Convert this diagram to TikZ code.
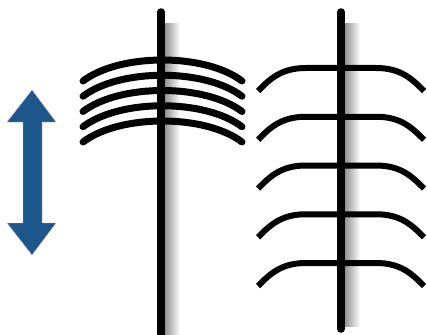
\documentclass[tikz,border=0pt]{standalone}
\usetikzlibrary{shadings}
\definecolor{arrowblue}{RGB}{29,86,138}

\begin{document}
\begin{tikzpicture}[
        x=1pt, y=-1pt,
        stem/.style={
            line width=7.5pt,
            line cap=round
        },
        tight arc/.style={
            line width=7pt,
            line cap=round
        },
        wide arc/.style={
            line width=6pt,
            line cap=butt
        },
        stem shadow/.style={
            left color=black!45,
            right color=white,
            draw=none
        }
    ]
    \useasboundingbox (0,0) rectangle (427,334);

    % Double arrow
    \fill[arrowblue, draw=black!25, line width=0.4pt]
        (32,90) -- (56,122) -- (42,122) -- (42,223) -- (56,223) -- (32,255)
        -- (7,223) -- (23,223) -- (23,122) -- (7,122) -- cycle;

    % Shadows behind the stems
    \shade[stem shadow] (164,24) rectangle (180,334);
    \shade[stem shadow] (344,24) rectangle (360,326);

    % Closely packed arcs
    \foreach \i in {0,...,4} {
        \draw[tight arc, yshift=-15.25*\i]
            (83,81) .. controls (120,53) and (205,53) .. (242,81);
    }

    % Widely spaced arcs
    \foreach \i in {0,...,4} {
        \draw[wide arc, yshift=-48.75*\i]
            (258,91) .. controls (270,79) and (281,68) .. (306,68)
            -- (376,68) .. controls (401,68) and (412,79) .. (424,91);
    }

    % Stems
    \coordinate (stemLtop) at (161,12);
    \coordinate (stemLbot) at (161,340);
    \coordinate (stemRtop) at (341,12);
    \coordinate (stemRbot) at (341,329);
    \draw[stem] (stemLtop) -- (stemLbot);
    \draw[stem] (stemRtop) -- (stemRbot);

\end{tikzpicture}
\end{document}
